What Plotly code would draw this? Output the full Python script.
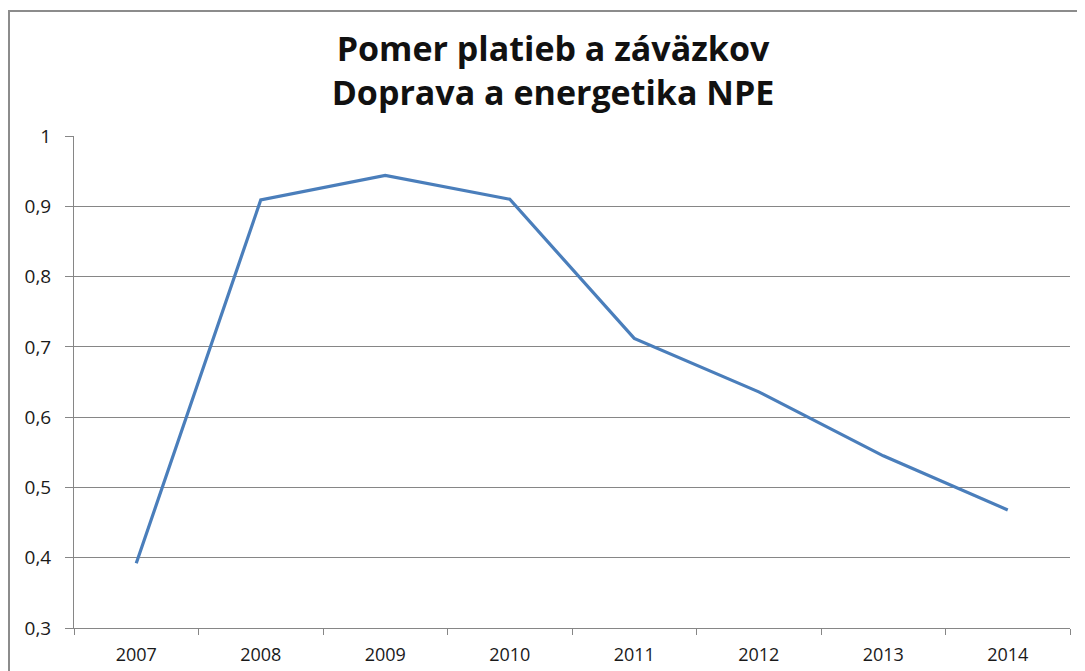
import plotly.graph_objects as go

years = ["2007", "2008", "2009", "2010", "2011", "2012", "2013", "2014"]
ratio = [0.392, 0.909, 0.944, 0.910, 0.712, 0.636, 0.545, 0.468]
y_ticks = [0.3, 0.4, 0.5, 0.6, 0.7, 0.8, 0.9, 1.0]
y_tick_labels = ["0,3", "0,4", "0,5", "0,6", "0,7", "0,8", "0,9", "1"]

W, H = 1085, 671
OFF = 8  # page body margin
L, R, T, B = 74 - OFF, 23, 136 - OFF, 51
pw, ph = W - L - R, H - T - B

fig = go.Figure()
fig.add_trace(go.Scatter(
    x=years, y=ratio, mode="lines",
    line=dict(color="#4a7ebb", width=3.2),
    showlegend=False, hoverinfo="x+y",
))

fig.update_layout(
    width=W, height=H,
    margin=dict(l=L, r=R, t=T, b=B),
    paper_bgcolor="white", plot_bgcolor="white",
    font=dict(family="Open Sans, Arial, sans-serif", color="#1a1a1a", size=16),
    title=dict(
        text="<b>Pomer platieb a záväzkov<br>Doprava a energetika NPE</b>",
        x=(553 - OFF) / W, xanchor="center", y=1 - (61 - OFF) / H, yanchor="middle",
        font=dict(family="Open Sans, Arial, sans-serif", size=34, color="#111111"),
    ),
    xaxis=dict(
        type="category", range=[-0.5, 7.5], tickson="boundaries",
        showgrid=False, showline=True, linecolor="#868686", linewidth=1,
        ticks="outside", ticklen=6, tickcolor="#868686",
        ticklabelstandoff=10,
        tickfont=dict(size=18, color="#1a1a1a"),
    ),
    yaxis=dict(
        range=[0.3, 1.0], tickvals=y_ticks, ticktext=y_tick_labels,
        showgrid=True, gridcolor="#868686", gridwidth=1,
        showline=True, linecolor="#868686", linewidth=1,
        ticks="outside", ticklen=8, tickcolor="#868686",
        ticklabelstandoff=10,
        tickfont=dict(size=19, color="#1a1a1a"), zeroline=False,
    ),
    shapes=[dict(
        type="rect", xref="paper", yref="paper",
        x0=(1 - L) / pw, x1=(W + 20 - L) / pw,
        y0=-(B + 20) / ph, y1=1 + (T - 3) / ph,
        line=dict(color="#8c8c8c", width=2), fillcolor="rgba(0,0,0,0)", layer="below",
    )],
)

fig.write_html("out.html")
